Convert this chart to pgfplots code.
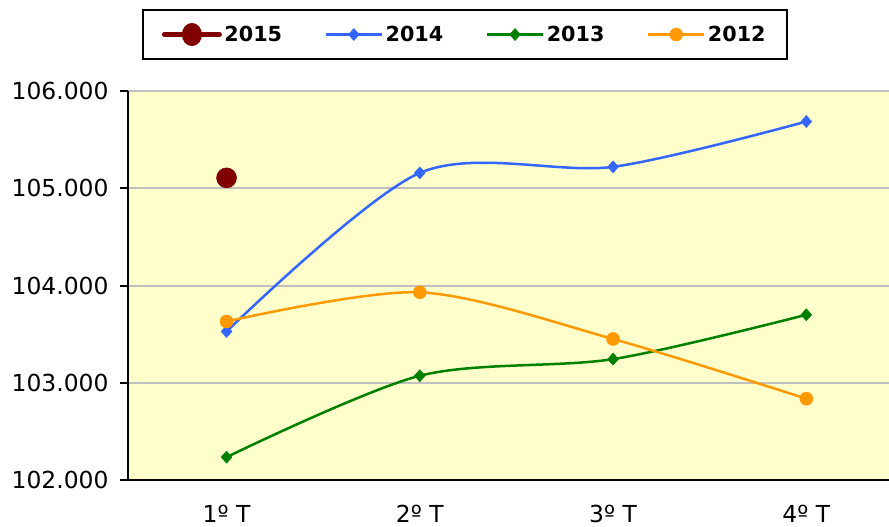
\documentclass[border=0pt]{standalone}
\usepackage{fontspec}
\setmainfont{DejaVu Sans}
\usepackage{pgfplots}
\pgfplotsset{compat=1.18}
\definecolor{c15}{HTML}{800000}
\definecolor{c14}{HTML}{3366FF}
\definecolor{c13}{HTML}{008000}
\definecolor{c12}{HTML}{FF9900}
\definecolor{bgc}{HTML}{FFFFCC}
\definecolor{gridc}{HTML}{C0C0C0}
\begin{document}
\begin{tikzpicture}
\begin{axis}[
  name=ax,
  scale only axis,
  width=773bp, height=389bp,
  xmin=0.49, xmax=4.49, ymin=102, ymax=106,
  axis lines*=left,
  axis line style={-, black, line width=2bp},
  axis background/.style={fill=bgc},
  ymajorgrids,
  grid style={gridc, line width=2bp},
  xtick={1,2,3,4},
  xticklabels={1º T,2º T,3º T,4º T},
  ytick={102,103,104,105,106},
  yticklabels={102.000,103.000,104.000,105.000,106.000},
  tick align=outside,
  major x tick style={draw=none},
  major y tick style={black, line width=2bp},
  major tick length=8bp,
  tick label style={font=\fontsize{23.5}{28}\selectfont},
  /pgf/number format/assume math mode=true,
  xticklabel style={inner ysep=0pt, yshift=-17bp},
  yticklabel style={xshift=-8bp},
  legend columns=4,
  legend style={
    at={(0.436,1.1452)}, anchor=center,
    draw=black, line width=1.5bp, fill=white,
    inner xsep=19bp, inner ysep=13bp,
    font=\fontsize{20.8}{25}\selectfont\bfseries,
    nodes={inner xsep=2.5bp, inner ysep=2bp},
    /tikz/every even column/.append style={column sep=40bp},
  },
  legend image code/.code={
    \draw[mark repeat=2,mark phase=2] plot coordinates {(0bp,0bp) (28bp,0bp) (56bp,0bp)};
  },
]
\addplot[c15, line width=5bp, line cap=round, mark=*, mark size=10bp,
  mark options={solid, line width=0.5bp, fill=c15},
  legend image code/.code={
    \draw[c15, line width=5bp, line cap=round] (2.5bp,0bp) -- (57.5bp,0bp);
    \fill[c15] (30bp,0bp) ellipse (7.5bp and 9bp);
  }]
  coordinates {(1,105.107)};
\addlegendentry{2015}
\addplot[c14, line width=2.5bp, smooth, mark=diamond*, mark size=6bp,
  mark options={solid, line width=0.5bp, fill=c14, xscale=1.2}]
  coordinates {(1,103.527) (2,105.158) (3,105.220) (4,105.686)};
\addlegendentry{2014}
\addplot[c13, line width=2.5bp, smooth, mark=diamond*, mark size=6bp,
  mark options={solid, line width=0.5bp, fill=c13, xscale=1.2}]
  coordinates {(1,102.235) (2,103.072) (3,103.243) (4,103.699)};
\addlegendentry{2013}
\addplot[c12, line width=2.5bp, smooth, mark=*, mark size=6.5bp,
  mark options={solid, line width=0.5bp, fill=c12}]
  coordinates {(1,103.630) (2,103.930) (3,103.450) (4,102.836)};
\addlegendentry{2012}
\end{axis}
\pgfresetboundingbox
\path[use as bounding box] ([xshift=-128bp,yshift=-47bp]ax.south west) rectangle ([xshift=761bp,yshift=91bp]ax.north west);
\end{tikzpicture}
\end{document}
